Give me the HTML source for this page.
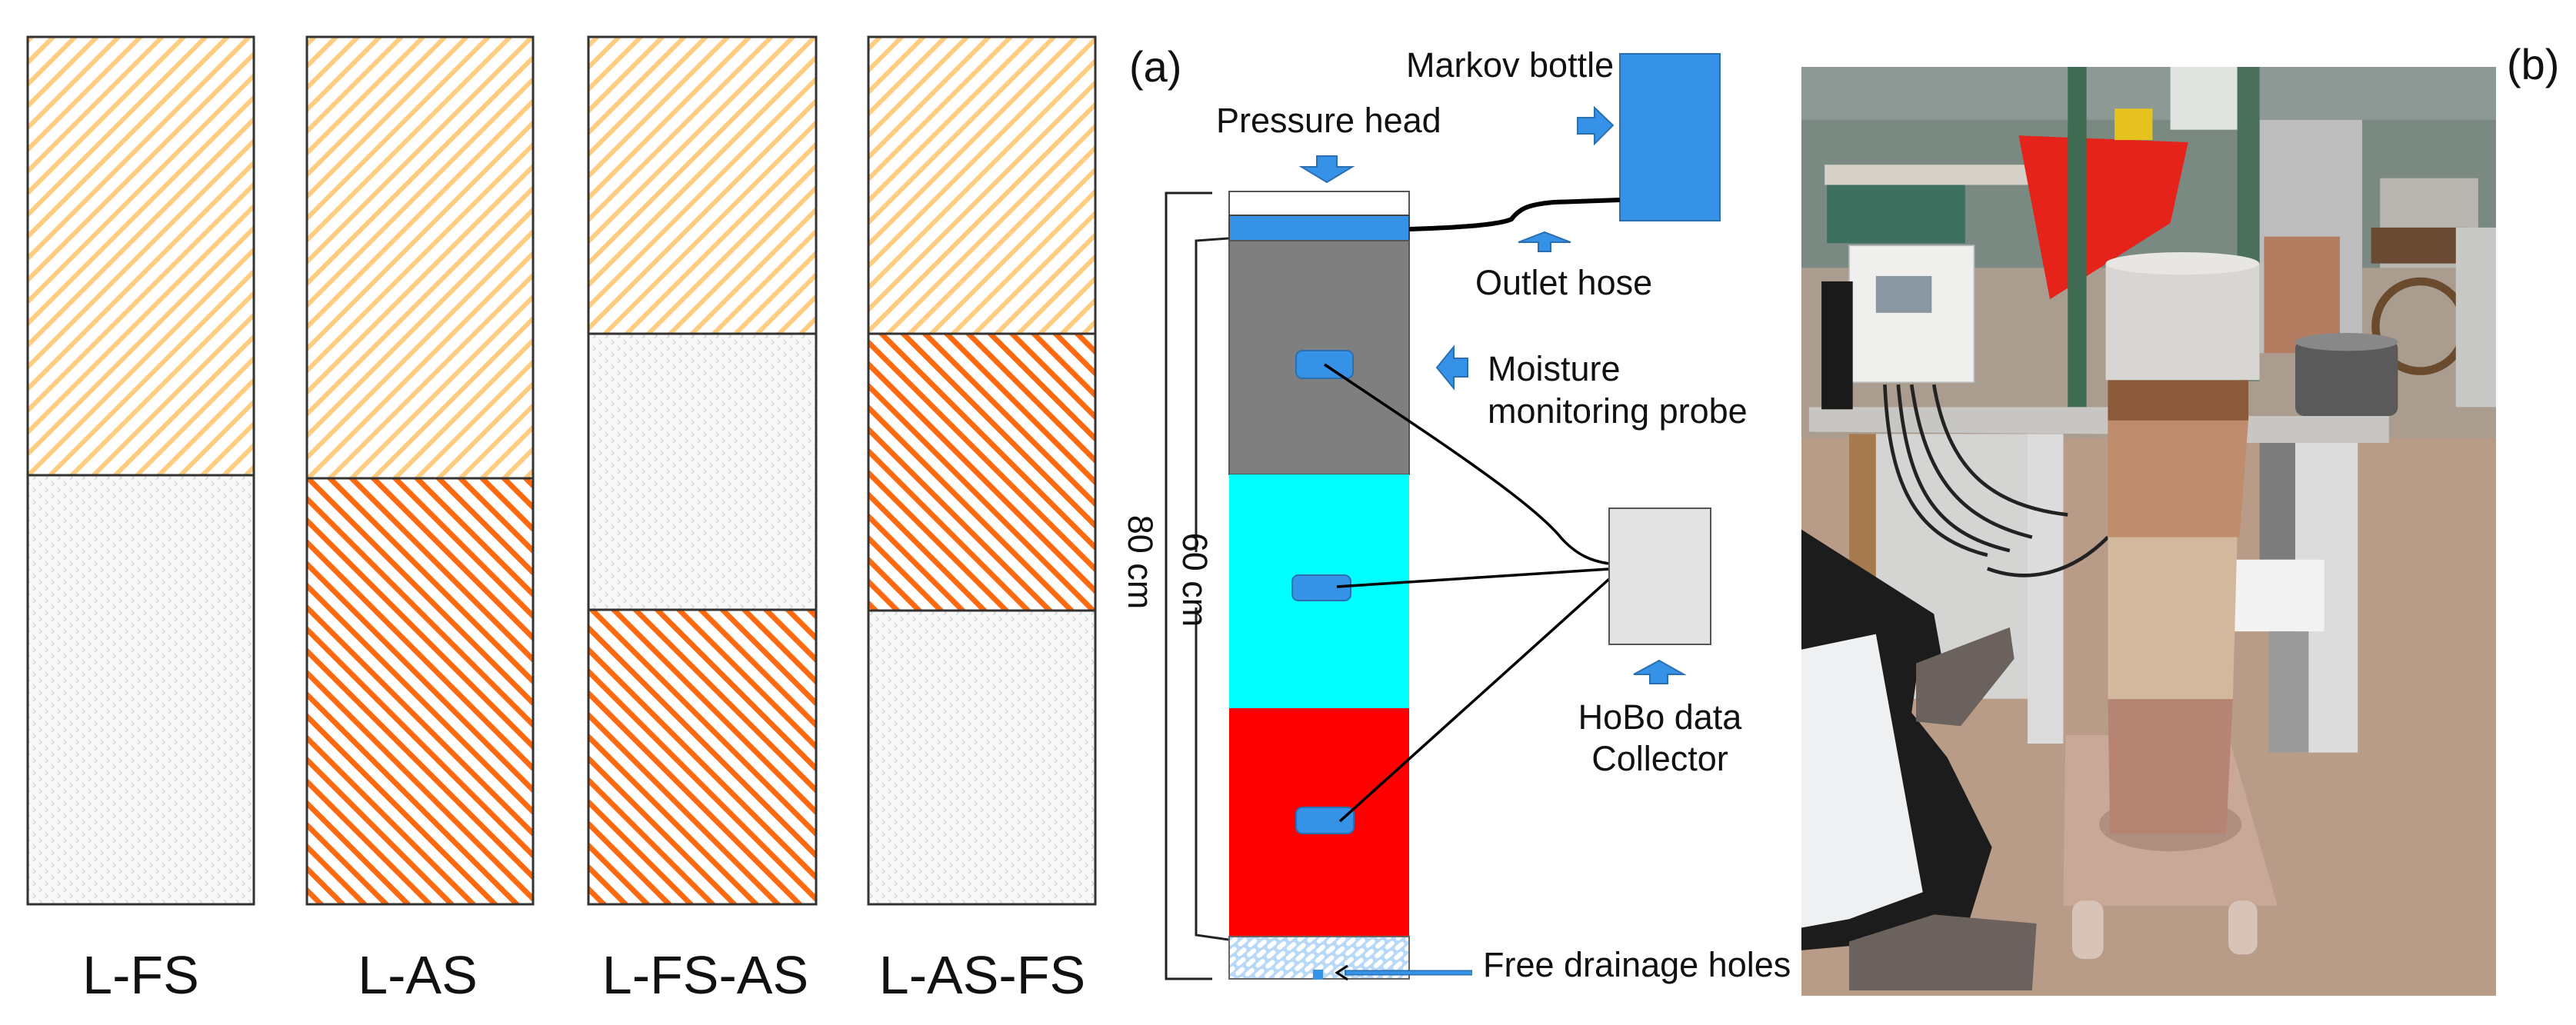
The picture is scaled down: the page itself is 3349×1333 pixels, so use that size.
<!DOCTYPE html>
<html><head><meta charset="utf-8"><style>
html,body{margin:0;padding:0;background:#fff;}
svg{display:block;}
text{font-family:"Liberation Sans",Arial,sans-serif;fill:#111;}
</style></head><body>
<svg width="3349" height="1333" viewBox="0 0 3349 1333" xmlns="http://www.w3.org/2000/svg">
<defs>
<pattern id="lo" width="20" height="20" patternUnits="userSpaceOnUse" patternTransform="rotate(45)">
<rect width="20" height="20" fill="#fff"/><rect x="0" y="0" width="6" height="20" fill="#ffcc80"/></pattern>
<pattern id="do" width="20" height="20" patternUnits="userSpaceOnUse" patternTransform="rotate(-45)">
<rect width="20" height="20" fill="#fff"/><rect x="0" y="0" width="7" height="20" fill="#ff6a10"/></pattern>
<pattern id="fs" width="16" height="16" patternUnits="userSpaceOnUse">
<rect width="16" height="16" fill="#f8f8f8"/><path d="M3 2 l3 3 l-3 3" stroke="#d6d6d6" stroke-width="1.5" fill="none"/><path d="M11 10 l3 3 l-3 3" stroke="#d6d6d6" stroke-width="1.5" fill="none"/></pattern>
<pattern id="dr" width="18" height="18" patternUnits="userSpaceOnUse" patternTransform="rotate(-40)">
<rect width="18" height="18" fill="#b8d8f8"/><rect x="2" y="3" width="14" height="6" rx="3" fill="#fff"/><rect x="-7" y="12" width="14" height="6" rx="3" fill="#fff"/><rect x="11" y="12" width="14" height="6" rx="3" fill="#fff"/></pattern>
</defs>

<g stroke="#333" stroke-width="3">
<rect x="36" y="48" width="294" height="570" fill="url(#lo)"/>
<rect x="36" y="618" width="294" height="558" fill="url(#fs)"/>
<rect x="399" y="48" width="294" height="574" fill="url(#lo)"/>
<rect x="399" y="622" width="294" height="554" fill="url(#do)"/>
<rect x="765" y="48" width="296" height="386" fill="url(#lo)"/>
<rect x="765" y="434" width="296" height="359" fill="url(#fs)"/>
<rect x="765" y="793" width="296" height="383" fill="url(#do)"/>
<rect x="1129" y="48" width="295" height="386" fill="url(#lo)"/>
<rect x="1129" y="434" width="295" height="360" fill="url(#do)"/>
<rect x="1129" y="794" width="295" height="382" fill="url(#fs)"/>
</g>
<g font-size="70" text-anchor="middle">
<text x="183" y="1292">L-FS</text>
<text x="543" y="1292">L-AS</text>
<text x="917" y="1292">L-FS-AS</text>
<text x="1277" y="1292">L-AS-FS</text>
</g>

<text x="1468" y="106" font-size="56">(a)</text>
<text x="1828" y="100" font-size="45">Markov bottle</text>
<text x="1581" y="172" font-size="45">Pressure head</text>
<rect x="2106" y="70" width="130" height="217" fill="#3592e6" stroke="#2a6fb0" stroke-width="2"/>
<path d="M2051 153 h22 v-13 l24 23 l-24 24 v-13 h-22 z" fill="#3592e6" stroke="#2a6fb0" stroke-width="2"/>
<path d="M1712 203 h26 v14 h20 l-33 20 l-33 -20 h20 z" fill="#3592e6" stroke="#2a6fb0" stroke-width="2"/>
<rect x="1598" y="249" width="234" height="31" fill="#fff" stroke="#555" stroke-width="2"/>
<rect x="1598" y="280" width="234" height="33" fill="#3592e6" stroke="#444" stroke-width="2"/>
<rect x="1598" y="313" width="234" height="304" fill="#7f7f7f" stroke="#555" stroke-width="2"/>
<rect x="1598" y="617" width="234" height="304" fill="#00ffff"/>
<rect x="1598" y="921" width="234" height="297" fill="#ff0000"/>
<rect x="1598" y="1218" width="234" height="55" fill="url(#dr)" stroke="#666" stroke-width="2"/>
<rect x="1707" y="1261" width="13" height="13" fill="#3592e6"/>
<path d="M1832 298 C1900 296 1950 292 1965 285 C1975 272 1985 266 2020 263 L2106 260" stroke="#000" stroke-width="6" fill="none"/>
<path d="M2000 327 v-12 h-26 l34 -13 l34 13 h-26 v12 z" fill="#3592e6" stroke="#2a6fb0" stroke-width="2"/>
<text x="1918" y="383" font-size="45">Outlet hose</text>
<path d="M1908 466 h-18 v-15 l-22 27 l22 27 v-15 h18 z" fill="#3592e6" stroke="#2a6fb0" stroke-width="2"/>
<text x="1934" y="495" font-size="45">Moisture</text>
<text x="1934" y="550" font-size="45">monitoring probe</text>
<rect x="1685" y="456" width="74" height="36" rx="8" fill="#3592e6" stroke="#2a6fb0" stroke-width="2"/>
<rect x="1680" y="748" width="76" height="33" rx="8" fill="#3592e6" stroke="#2a6fb0" stroke-width="2"/>
<rect x="1685" y="1050" width="75" height="34" rx="8" fill="#3592e6" stroke="#2a6fb0" stroke-width="2"/>
<g stroke="#000" stroke-width="3.5" fill="none">
<path d="M1722 474 C1850 560 1990 650 2030 700 C2050 722 2070 730 2092 733"/>
<path d="M1738 763 L2092 740"/>
<path d="M1742 1068 L2092 753"/>
</g>
<rect x="2092" y="661" width="132" height="177" fill="#e3e3e3" stroke="#555" stroke-width="2"/>
<path d="M2145 889 v-12 h-21 l33 -18 l32 18 h-21 v12 z" fill="#3592e6" stroke="#2a6fb0" stroke-width="2"/>
<text x="2158" y="948" font-size="45" text-anchor="middle">HoBo data</text>
<text x="2158" y="1002" font-size="45" text-anchor="middle">Collector</text>
<path d="M1914 1265 H1748" stroke="#2a6fb0" stroke-width="7"/>
<path d="M1914 1265 H1750" stroke="#3592e6" stroke-width="4"/>
<path d="M1752 1256 l-14 9 l14 9" fill="none" stroke="#000" stroke-width="3"/>
<text x="1928" y="1270" font-size="45">Free drainage holes</text>
<g stroke="#222" stroke-width="3" fill="none">
<path d="M1576 251 H1516 V1273 H1576"/>
<path d="M1597 310 L1555 313 V718"/>
<path d="M1555 790 V1216 L1597 1222"/>
</g>
<text x="1483" y="731" font-size="45" text-anchor="middle" transform="rotate(90 1483 731)" dy="16">80 cm</text>
<text x="1554" y="754" font-size="45" text-anchor="middle" transform="rotate(90 1554 754)" dy="16">60 cm</text>

<!-- (b) photo -->
<text x="3259" y="103" font-size="56">(b)</text>
<svg x="2342" y="87" width="903" height="1208" viewBox="3 12 1557 2070" preserveAspectRatio="none">
<rect x="0" y="0" width="1600" height="2100" fill="#b99c88"/>
<rect x="0" y="0" width="1600" height="460" fill="#7b8983"/>
<rect x="0" y="0" width="1600" height="130" fill="#8d9995"/>
<rect x="830" y="12" width="170" height="140" fill="#dfe3e0"/>
<rect x="0" y="460" width="1600" height="380" fill="#aa9c8f"/>
<rect x="55" y="230" width="470" height="45" fill="#d5d0c8"/>
<rect x="60" y="275" width="310" height="130" fill="#3e7060"/>
<rect x="1300" y="260" width="220" height="200" fill="#b8b6b0"/>
<rect x="1030" y="130" width="230" height="520" fill="#bdbdbd"/>
<rect x="1040" y="390" width="170" height="260" fill="#b47d62"/>
<path d="M490 165 L870 180 L830 360 L560 530 Z" fill="#e5231b"/>
<rect x="705" y="105" width="85" height="70" fill="#e6c21e"/>
<rect x="1280" y="370" width="220" height="80" fill="#6a4a32"/>
<circle cx="1390" cy="590" r="100" fill="none" stroke="#6b4b2e" stroke-width="18"/>
<rect x="1470" y="370" width="90" height="400" fill="#c8c8c6"/>
<rect x="600" y="12" width="42" height="790" fill="#3f6b52"/>
<rect x="980" y="12" width="50" height="700" fill="#4a6f5a"/>
<path d="M20 770 L690 770 L690 830 L20 825 Z" fill="#c8c6c2"/>
<path d="M1000 790 L1320 790 L1320 850 L1000 850 Z" fill="#c8c6c2"/>
<rect x="140" y="830" width="380" height="590" fill="#d4d4d2"/>
<rect x="110" y="830" width="60" height="330" fill="#a67a4e"/>
<rect x="510" y="830" width="80" height="690" fill="#dcdcdc"/>
<rect x="1030" y="850" width="170" height="260" fill="#7c7c7c"/>
<rect x="1110" y="850" width="140" height="690" fill="#dcdcdc"/>
<rect x="970" y="1110" width="205" height="160" fill="#f2f2f2"/>
<rect x="1050" y="1270" width="90" height="270" fill="#9a9a9a"/>
<g stroke="#222" stroke-width="8" fill="none">
<path d="M190 720 C200 950 260 1060 420 1100"/>
<path d="M220 720 C240 950 300 1050 470 1090"/>
<path d="M250 720 C280 930 360 1020 520 1060"/>
<path d="M300 720 C330 900 420 990 600 1010"/>
<path d="M420 1130 C500 1160 600 1150 690 1060"/>
</g>
<rect x="110" y="410" width="280" height="305" fill="#efefed" stroke="#bbb" stroke-width="3"/>
<rect x="170" y="478" width="125" height="82" fill="#8a96a0"/>
<rect x="48" y="490" width="70" height="285" fill="#1a1a1a"/>
<rect x="1110" y="620" width="230" height="170" rx="20" fill="#5a5a5a"/>
<ellipse cx="1225" cy="625" rx="115" ry="20" fill="#888"/>
<!-- column -->
<path d="M595 1501 L960 1501 L1070 1881 L590 1881 Z" fill="#c9a898"/>
<rect x="610" y="1870" width="70" height="130" rx="25" fill="#d7c3b8"/>
<rect x="960" y="1870" width="65" height="120" rx="25" fill="#d7c3b8"/>
<ellipse cx="830" cy="1700" rx="160" ry="60" fill="#b08e80"/>
<rect x="685" y="450" width="345" height="260" fill="#d8d6d2"/>
<ellipse cx="857" cy="450" rx="172" ry="25" fill="#e8e6e2"/>
<rect x="690" y="710" width="315" height="90" fill="#8b5a3a"/>
<path d="M690 800 L1005 800 L985 1060 L690 1060 Z" fill="#c08c6e"/>
<path d="M690 1060 L980 1060 L970 1421 L690 1421 Z" fill="#d2b99e"/>
<path d="M690 1421 L970 1421 L955 1721 L695 1721 Z" fill="#b58473"/>
<!-- person -->
<path d="M0 1041 L300 1231 L320 1341 L260 1381 L250 1451 L330 1551 L430 1751 L380 1911 L110 1971 L0 1981 Z" fill="#1c1c1c"/>
<path d="M0 1311 L170 1276 L275 1851 L110 1911 L0 1931 Z" fill="#eef0f2"/>
<path d="M260 1341 L470 1261 L480 1331 L360 1481 L260 1471 Z" fill="#6b625d"/>
<path d="M110 1961 L300 1901 L530 1921 L520 2070 L110 2070 Z" fill="#6b625d"/>
</svg>
</svg>
</body></html>
